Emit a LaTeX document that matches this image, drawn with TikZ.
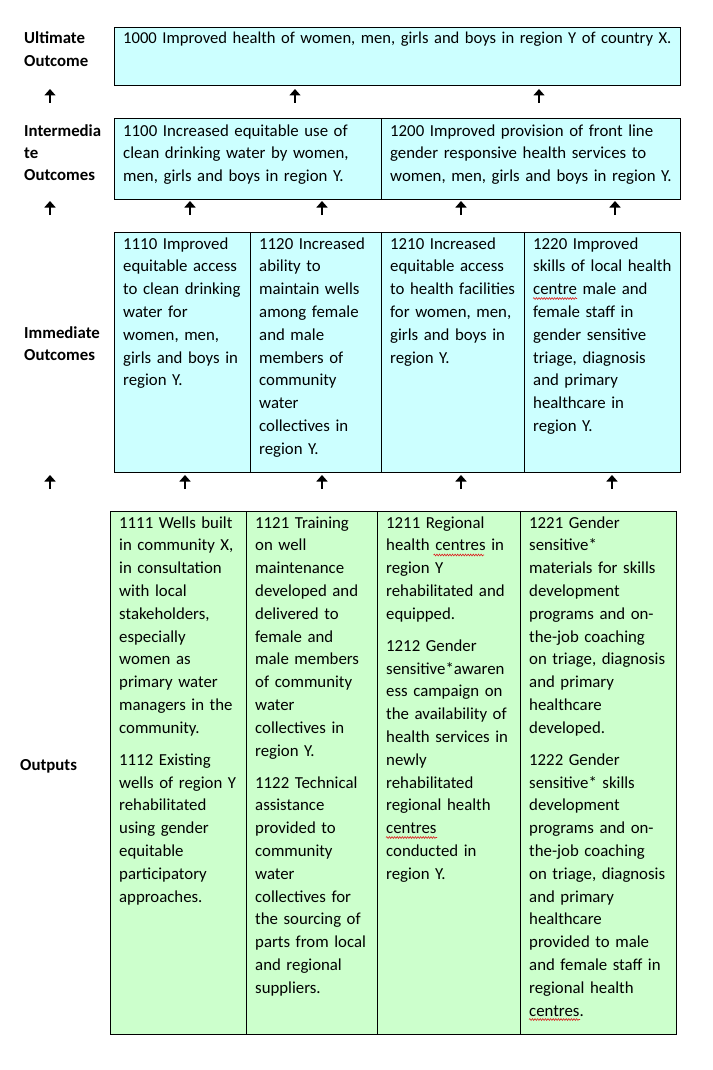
\documentclass[tikz,border=0pt]{standalone}
\usepackage{fontspec}
\setmainfont{Carlito}
\usetikzlibrary{arrows.meta,positioning,decorations.pathmorphing}
\definecolor{outcyan}{RGB}{204,255,255}
\definecolor{outgreen}{RGB}{204,255,204}
\definecolor{spellred}{RGB}{220,30,30}
\newcommand{\cellfont}{\fontsize{16.8}{22.8}\selectfont}
\newcommand{\rowfont}{\fontsize{16.8}{22.3}\selectfont\bfseries}

\begin{document}
\begin{tikzpicture}[x=1pt,y=-1pt,
      cyanbox/.style={draw=black,fill=outcyan,line width=1pt,anchor=north west,inner sep=0pt},
      greenbox/.style={draw=black,fill=outgreen,line width=1pt,anchor=north west,inner sep=0pt},
      txt/.style={anchor=base west,align=left,inner sep=0pt,font=\cellfont},
      rowlbl/.style={anchor=base west,align=left,inner sep=0pt,font=\rowfont},
      up/.style={-{Triangle[length=6.5pt,width=11pt]},line width=2.8pt,black},
      squiggle/.style={spellred,line width=0.6pt,decorate,decoration={snake,amplitude=0.9pt,segment length=2.6pt}}]
    \useasboundingbox (0,0) rectangle (712,1070);
    % row labels
    \node[rowlbl,text width=90pt] (lult) at (24,44) {Ultimate\\Outcome};
    \node[rowlbl,text width=90pt] (lint) at (24,136) {Intermedia\\te\\Outcomes};
    \node[rowlbl,text width=90pt] (limm) at (24,338) {Immediate\\Outcomes};
    \node[rowlbl,text width=90pt] (lout) at (20,770) {Outputs};
    % ultimate outcome
    \node[cyanbox,minimum width=566pt,minimum height=58pt] (ult) at (114,27) {};
    \node[txt,text width=560pt,font=\fontsize{16.6}{22.8}\selectfont] (t1000) at (123,44) {1000 Improved health of women, men, girls and boys in region Y of country X.};
    % intermediate outcomes
    \node[cyanbox,minimum width=267pt,minimum height=81pt] (int1) at (114,118) {};
    \node[cyanbox,minimum width=299pt,minimum height=81pt] (int2) at (381,118) {};
    \node[txt,text width=260pt] (t1100) at (123,136) {1100 Increased equitable use of\\clean drinking water by women,\\men, girls and boys in region Y.};
    \node[txt,text width=290pt] (t1200) at (390,136) {1200 Improved provision of front line\\gender responsive health services to\\women, men, girls and boys in region Y.};
    % immediate outcomes
    \node[cyanbox,minimum width=136pt,minimum height=240pt] (imm1) at (114,232) {};
    \node[cyanbox,minimum width=131pt,minimum height=240pt] (imm2) at (250,232) {};
    \node[cyanbox,minimum width=143pt,minimum height=240pt] (imm3) at (381,232) {};
    \node[cyanbox,minimum width=156pt,minimum height=240pt] (imm4) at (524,232) {};
    \node[txt,text width=130pt] (t1110) at (123,249) {1110 Improved\\equitable access\\to clean drinking\\water for\\women, men,\\girls and boys in\\region Y.};
    \node[txt,text width=125pt] (t1120) at (259,249) {1120 Increased\\ability to\\maintain wells\\among female\\and male\\members of\\community\\water\\collectives in\\region Y.};
    \node[txt,text width=140pt] (t1210) at (390,249) {1210 Increased\\equitable access\\to health facilities\\for women, men,\\girls and boys in\\region Y.};
    \node[txt,text width=150pt] (t1220) at (533,249) {1220 Improved\\skills of local health\\centre male and\\female staff in\\gender sensitive\\triage, diagnosis\\and primary\\healthcare in\\region Y.};
    % outputs
    \node[greenbox,minimum width=136pt,minimum height=523pt] (out1) at (110,511) {};
    \node[greenbox,minimum width=131pt,minimum height=523pt] (out2) at (246,511) {};
    \node[greenbox,minimum width=143pt,minimum height=523pt] (out3) at (377,511) {};
    \node[greenbox,minimum width=156pt,minimum height=523pt] (out4) at (520,511) {};
    \node[txt,text width=130pt] (t1111) at (119,528) {1111 Wells built\\in community X,\\in consultation\\with local\\stakeholders,\\especially\\women as\\primary water\\managers in the\\community.\\[9.2pt]1112 Existing\\wells of region Y\\rehabilitated\\using gender\\equitable\\participatory\\approaches.};
    \node[txt,text width=125pt] (t1121) at (255,528) {1121 Training\\on well\\maintenance\\developed and\\delivered to\\female and\\male members\\of community\\water\\collectives in\\region Y.\\[9.2pt]1122 Technical\\assistance\\provided to\\community\\water\\collectives for\\the sourcing of\\parts from local\\and regional\\suppliers.};
    \node[txt,text width=140pt] (t1211) at (386,528) {1211 Regional\\health centres in\\region Y\\rehabilitated and\\equipped.\\[9.2pt]1212 Gender\\sensitive*awaren\\ess campaign on\\the availability of\\health services in\\newly\\rehabilitated\\regional health\\centres\\conducted in\\region Y.};
    \node[txt,text width=150pt] (t1221) at (529,528) {1221 Gender\\sensitive*\\materials for skills\\development\\programs and on-\\the-job coaching\\on triage, diagnosis\\and primary\\healthcare\\developed.\\[9.2pt]1222 Gender\\sensitive* skills\\development\\programs and on-\\the-job coaching\\on triage, diagnosis\\and primary\\healthcare\\provided to male\\and female staff in\\regional health\\centres.};
    % spelling marks under "centre(s)"
    \draw[squiggle] (533,298.5) -- (577,298.5);
    \draw[squiggle] (433.5,555) -- (484,555);
    \draw[squiggle] (386,837.5) -- (437,837.5);
    \draw[squiggle] (529,1019.5) -- (580,1019.5);
    % arrows between rows
    \coordinate (a1s) at (50,103); \coordinate (a1e) at (50,89);
    \coordinate (a2s) at (295,103); \coordinate (a2e) at (295,89);
    \coordinate (a3s) at (539,103); \coordinate (a3e) at (539,89);
    \coordinate (b1s) at (50,215); \coordinate (b1e) at (50,201);
    \coordinate (b2s) at (190,215); \coordinate (b2e) at (190,201);
    \coordinate (b3s) at (322,215); \coordinate (b3e) at (322,201);
    \coordinate (b4s) at (461,215); \coordinate (b4e) at (461,201);
    \coordinate (b5s) at (615,215); \coordinate (b5e) at (615,201);
    \coordinate (c1s) at (50,489); \coordinate (c1e) at (50,475);
    \coordinate (c2s) at (185,489); \coordinate (c2e) at (185,475);
    \coordinate (c3s) at (322,489); \coordinate (c3e) at (322,475);
    \coordinate (c4s) at (461,489); \coordinate (c4e) at (461,475);
    \coordinate (c5s) at (612,489); \coordinate (c5e) at (612,475);
    \draw[up] (a1s)--(a1e); \draw[up] (a2s)--(a2e); \draw[up] (a3s)--(a3e);
    \draw[up] (b1s)--(b1e); \draw[up] (b2s)--(b2e); \draw[up] (b3s)--(b3e); \draw[up] (b4s)--(b4e); \draw[up] (b5s)--(b5e);
    \draw[up] (c1s)--(c1e); \draw[up] (c2s)--(c2e); \draw[up] (c3s)--(c3e); \draw[up] (c4s)--(c4e); \draw[up] (c5s)--(c5e);
  \end{tikzpicture}
\end{document}
